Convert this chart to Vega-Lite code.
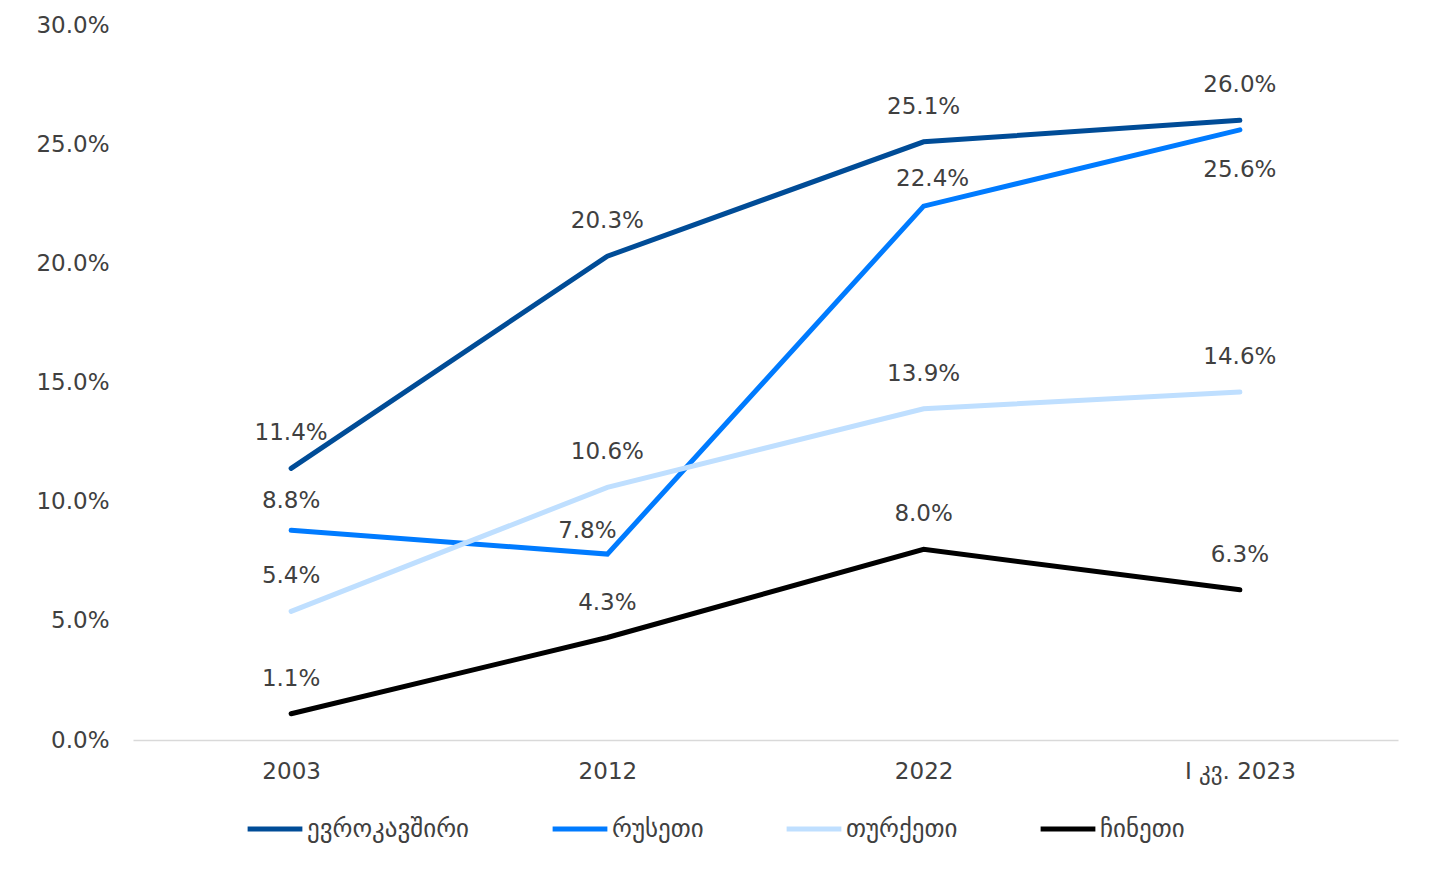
{
  "$schema": "https://vega.github.io/schema/vega-lite/v6.json",
  "autosize": "none",
  "width": 1265,
  "height": 715,
  "padding": {"left": 133, "top": 25, "right": 33, "bottom": 136},
  "background": "white",
  "config": {
    "view": {"stroke": null},
    "font": "DejaVu Sans",
    "axis": {"labelFont": "DejaVu Sans", "labelColor": "#404040", "labelFontSize": 23}
  },
  "data": {
    "values": [
      {"period": "2003", "country": "ევროკავშირი", "share": 0.114},
      {"period": "2012", "country": "ევროკავშირი", "share": 0.203},
      {"period": "2022", "country": "ევროკავშირი", "share": 0.251},
      {"period": "I კვ. 2023", "country": "ევროკავშირი", "share": 0.260},
      {"period": "2003", "country": "რუსეთი", "share": 0.088},
      {"period": "2012", "country": "რუსეთი", "share": 0.078},
      {"period": "2022", "country": "რუსეთი", "share": 0.224},
      {"period": "I კვ. 2023", "country": "რუსეთი", "share": 0.256},
      {"period": "2003", "country": "თურქეთი", "share": 0.054},
      {"period": "2012", "country": "თურქეთი", "share": 0.106},
      {"period": "2022", "country": "თურქეთი", "share": 0.139},
      {"period": "I კვ. 2023", "country": "თურქეთი", "share": 0.146},
      {"period": "2003", "country": "ჩინეთი", "share": 0.011},
      {"period": "2012", "country": "ჩინეთი", "share": 0.043},
      {"period": "2022", "country": "ჩინეთი", "share": 0.080},
      {"period": "I კვ. 2023", "country": "ჩინეთი", "share": 0.063}
    ]
  },
  "encoding": {
    "x": {
      "field": "period", "type": "ordinal", "sort": null,
      "scale": {"type": "point", "padding": 0.5},
      "axis": {"title": null, "labelAngle": 0, "ticks": false, "domainColor": "#d9d9d9", "domainWidth": 1.5, "labelPadding": 20, "grid": false}
    },
    "y": {
      "field": "share", "type": "quantitative",
      "scale": {"domain": [0, 0.3], "nice": false},
      "axis": {"title": null, "format": ".1%", "values": [0, 0.05, 0.1, 0.15, 0.2, 0.25, 0.3], "domain": false, "ticks": false, "grid": false, "labelPadding": 24}
    }
  },
  "layer": [
    {
      "mark": {"type": "line", "strokeWidth": 5, "strokeCap": "round"},
      "encoding": {
        "color": {
          "field": "country", "type": "nominal",
          "sort": ["ევროკავშირი", "რუსეთი", "თურქეთი", "ჩინეთი"],
          "scale": {"domain": ["ევროკავშირი", "რუსეთი", "თურქეთი", "ჩინეთი"], "range": ["#004C97", "#007BFF", "#BFDFFF", "#000000"]},
          "legend": {
            "title": null, "orient": "none", "direction": "horizontal",
            "legendX": 112, "legendY": 774,
            "symbolType": "stroke", "symbolSize": 3000, "symbolStrokeWidth": 5,
            "labelFontSize": 25, "labelColor": "#404040", "labelFont": "DejaVu Sans",
            "labelOffset": 2, "columnPadding": 72, "labelLimit": 400
          }
        }
      }
    },
    {
      "transform": [{"filter": "datum.country != 'რუსეთი'"}],
      "mark": {"type": "text", "dy": -35, "fontSize": 23, "color": "#404040"},
      "encoding": {"text": {"field": "share", "format": ".1%"}}
    },
    {
      "transform": [{"filter": "datum.country == 'რუსეთი' && (datum.period == '2003')"}],
      "mark": {"type": "text", "dy": -29, "fontSize": 23, "color": "#404040"},
      "encoding": {"text": {"field": "share", "format": ".1%"}}
    },
    {
      "transform": [{"filter": "datum.country == 'რუსეთი' && (datum.period == '2012')"}],
      "mark": {"type": "text", "dy": -23, "dx": -20, "fontSize": 23, "color": "#404040"},
      "encoding": {"text": {"field": "share", "format": ".1%"}}
    },
    {
      "transform": [{"filter": "datum.country == 'რუსეთი' && (datum.period == '2022')"}],
      "mark": {"type": "text", "dy": -27, "dx": 9, "fontSize": 23, "color": "#404040"},
      "encoding": {"text": {"field": "share", "format": ".1%"}}
    },
    {
      "transform": [{"filter": "datum.country == 'რუსეთი' && (datum.period == 'I კვ. 2023')"}],
      "mark": {"type": "text", "dy": 40, "fontSize": 23, "color": "#404040"},
      "encoding": {"text": {"field": "share", "format": ".1%"}}
    }
  ]
}
